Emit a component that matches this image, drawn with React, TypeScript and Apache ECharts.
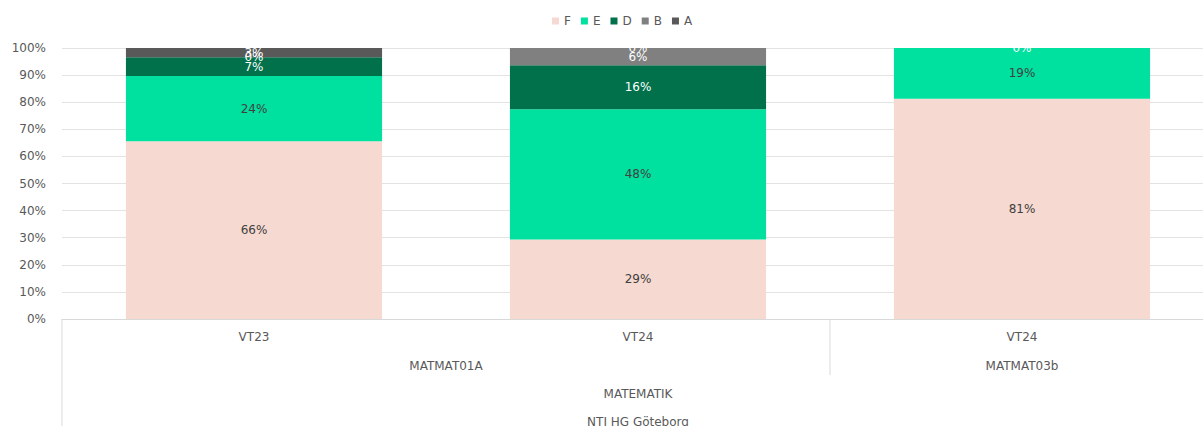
import React, { useEffect, useRef } from "react";
import * as echarts from "echarts";

const terms = ["VT23", "VT24", "VT24"];
const courses = ["MATMAT01A", "MATMAT01A", "MATMAT03b"];
const subjects = ["MATEMATIK", "MATEMATIK", "MATEMATIK"];
const schools = ["NTI HG Göteborg", "NTI HG Göteborg", "NTI HG Göteborg"];

const gradeF = [65.6, 29.3, 81.3];
const gradeE = [24.1, 48.1, 18.7];
const gradeD = [6.9, 16.2, 0];
const gradeB = [0, 6.4, null];
const gradeA = [3.4, 0, null];

const yTicks = [0, 10, 20, 30, 40, 50, 60, 70, 80, 90, 100];

const FONT = "DejaVu Sans";
const TXT = "#595959";
const CHART_W = 1220;

export default function App() {
  const ref = useRef<HTMLDivElement>(null);
  useEffect(() => {
    if (!ref.current) return;
    const chart = echarts.init(ref.current, null, { renderer: "svg" });
    const cats = terms.map((t, i) => courses[i] + "|" + t + "|" + i);
    const mk = (name: string, data: (number | null)[], color: string, labelColor: string) => ({
      name,
      type: "bar",
      stack: "total",
      data,
      barCategoryGap: "33.3%",
      itemStyle: { color },
      label: {
        show: true,
        position: "inside",
        color: labelColor,
        fontFamily: FONT,
        fontSize: 12,
        formatter: (p: any) => Math.round(p.value) + "%",
      },
    });
    const option: any = {
      animation: false,
      textStyle: { fontFamily: FONT },
      legend: {
        top: 10,
        left: 547,
        icon: "rect",
        itemWidth: 7,
        itemHeight: 7,
        itemGap: 10,
        textStyle: { color: TXT, fontSize: 12, fontFamily: FONT },
        data: ["F", "E", "D", "B", "A"],
      },
      grid: { left: 62, right: 6, top: 48, bottom: 107, containLabel: false },
      xAxis: {
        type: "category",
        data: cats,
        axisLine: { show: true, lineStyle: { color: "#d9d9d9" } },
        axisTick: { show: false },
        axisLabel: {
          color: TXT,
          fontSize: 12,
          fontFamily: FONT,
          margin: 12,
          formatter: (v: string) => v.split("|")[1],
        },
      },
      yAxis: {
        type: "value",
        min: 0,
        max: 100,
        interval: 10,
        axisLine: { show: false },
        axisTick: { show: false },
        splitLine: { lineStyle: { color: "#e3e3e3" } },
        axisLabel: {
          color: TXT,
          fontSize: 12,
          fontFamily: FONT,
          margin: 16,
          formatter: (v: number) => (yTicks.includes(v) ? v + "%" : ""),
        },
      },
      series: [
        mk("F", gradeF, "#f6d9d0", "#404040"),
        mk("E", gradeE, "#00e09f", "#404040"),
        mk("D", gradeD, "#00714b", "#ffffff"),
        mk("B", gradeB, "#808080", "#ffffff"),
        mk("A", gradeA, "#595959", "#ffffff"),
      ],
    };
    chart.setOption(option);

    const cx = (i: number) => chart.convertToPixel({ xAxisIndex: 0 }, i) as number;
    const band = cx(1) - cx(0);
    const y0 = chart.convertToPixel({ yAxisIndex: 0 }, 0) as number;
    const rowH = 28;
    const levels = [courses, subjects, schools];
    const graphics: any[] = [];
    levels.forEach((arr, li) => {
      const rowCenter = y0 + 19 + rowH * (li + 1);
      let start = 0;
      for (let i = 1; i <= arr.length; i++) {
        if (i === arr.length || arr[i] !== arr[start]) {
          const left = cx(start) - band / 2;
          const right = cx(i - 1) + band / 2;
          graphics.push({
            type: "text",
            x: (left + right) / 2,
            y: rowCenter,
            style: {
              text: arr[start],
              fill: TXT,
              font: `12px "${FONT}"`,
              textAlign: "center",
              textVerticalAlign: "middle",
            },
            silent: true,
          });
          start = i;
        }
      }
    });
    const lineStyle = { stroke: "#d9d9d9", lineWidth: 1 };
    const outerLeft = cx(0) - band / 2;
    graphics.push({
      type: "line",
      shape: { x1: outerLeft, y1: y0, x2: outerLeft, y2: 440 },
      style: lineStyle,
      silent: true,
    });
    for (let i = 1; i < courses.length; i++) {
      if (courses[i] !== courses[i - 1]) {
        const x = cx(i) - band / 2;
        graphics.push({
          type: "line",
          shape: { x1: x, y1: y0, x2: x, y2: y0 + rowH * 2 },
          style: lineStyle,
          silent: true,
        });
      }
    }
    chart.setOption({ graphic: graphics });
    return () => chart.dispose();
  }, []);
  return (
    <div
      style={{
        position: "fixed",
        left: 0,
        top: 0,
        width: 1203,
        height: 426,
        overflow: "hidden",
        background: "#fff",
      }}
    >
      <div ref={ref} style={{ width: CHART_W, height: 426 }} />
    </div>
  );
}
